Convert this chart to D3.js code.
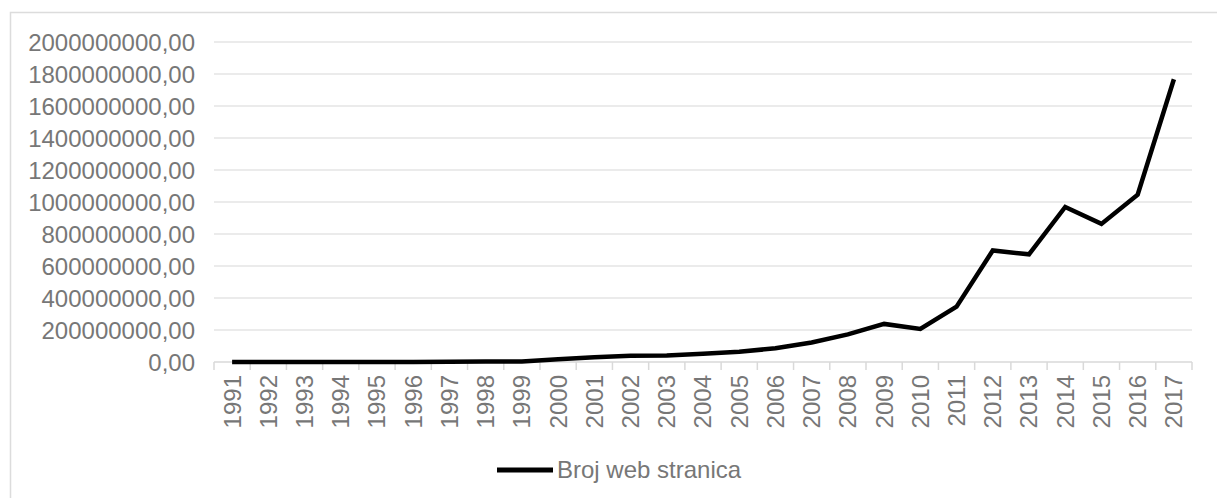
<!DOCTYPE html>
<html>
<head>
<meta charset="utf-8">
<script src="https://cdn.jsdelivr.net/npm/d3@7"></script>
<style>
  html, body { margin: 0; padding: 0; background: #fff; }
  svg { display: block; }
  text { font-family: "Liberation Sans", Arial, sans-serif; }
</style>
</head>
<body>
<svg id="chart" width="1217" height="498"></svg>
<script>
const years = ["1991","1992","1993","1994","1995","1996","1997","1998","1999","2000",
  "2001","2002","2003","2004","2005","2006","2007","2008","2009","2010",
  "2011","2012","2013","2014","2015","2016","2017"];
const websites = [1, 10, 130, 2738, 23500, 257601, 1117255, 2410067, 3177453, 17087182,
  29254370, 38760373, 40912332, 51611646, 64780617, 85507314, 121892559, 172338726, 238027855, 206956723,
  346004403, 697089489, 672985183, 968882453, 863105652, 1045534808, 1766926408];
const seriesName = "Broj web stranica";
const yTicks = [0, 200000000, 400000000, 600000000, 800000000, 1000000000,
  1200000000, 1400000000, 1600000000, 1800000000, 2000000000];
const yTickLabels = ["0,00", "200000000,00", "400000000,00", "600000000,00", "800000000,00",
  "1000000000,00", "1200000000,00", "1400000000,00", "1600000000,00", "1800000000,00", "2000000000,00"];

const svg = d3.select("#chart");
const W = 1217, H = 498;
const m = { left: 214, right: 25, top: 42, bottom: 136 };
const plotW = W - m.left - m.right;
const plotH = H - m.top - m.bottom;

const textColor = "#777777";
const gridColor = "#e4e4e4";

// outer frame
svg.append("rect")
  .attr("x", 10.5).attr("y", 12.5)
  .attr("width", 1400).attr("height", 700)
  .attr("fill", "none").attr("stroke", "#dcdcdc").attr("stroke-width", 1.5);

const g = svg.append("g").attr("transform", `translate(${m.left},${m.top})`);

const x = d3.scaleBand().domain(years).range([0, plotW]).paddingInner(0).paddingOuter(0);
const y = d3.scaleLinear().domain([0, 2000000000]).range([plotH, 0]);

// gridlines
g.append("g").selectAll("line")
  .data(yTicks.filter(d => d > 0))
  .join("line")
  .attr("x1", 0).attr("x2", plotW)
  .attr("y1", d => y(d)).attr("y2", d => y(d))
  .attr("stroke", gridColor).attr("stroke-width", 1.6);

// y axis labels
const yAxis = d3.axisLeft(y)
  .tickValues(yTicks)
  .tickFormat((d, i) => yTickLabels[i])
  .tickSize(0).tickPadding(19);
const yg = g.append("g").call(yAxis);
yg.select(".domain").remove();
yg.selectAll("text")
  .attr("fill", textColor)
  .style("font-size", "24px")
  .attr("dy", "0.35em");

// x axis baseline
const xg = g.append("g").attr("transform", `translate(0,${plotH})`);
xg.append("line")
  .attr("x1", 0).attr("x2", plotW)
  .attr("y1", 0).attr("y2", 0)
  .attr("stroke", "#d9d9d9").attr("stroke-width", 1.5);
// boundary ticks
const boundaries = years.map(d => x(d)).concat([x(years[years.length - 1]) + x.bandwidth()]);
xg.selectAll("line.tick")
  .data(boundaries)
  .join("line")
  .attr("class", "tick")
  .attr("x1", d => d).attr("x2", d => d)
  .attr("y1", 0).attr("y2", 8)
  .attr("stroke", "#d9d9d9").attr("stroke-width", 1.5);

// x labels using axis
const xAxis = d3.axisBottom(x).tickSize(0).tickPadding(0);
const xl = g.append("g").attr("transform", `translate(0,${plotH})`).call(xAxis);
xl.select(".domain").remove();
xl.selectAll("text")
  .attr("fill", textColor)
  .style("font-size", "24px")
  .attr("text-anchor", "end")
  .attr("transform", "rotate(-90)")
  .attr("x", -13)
  .attr("y", 0)
  .attr("dy", "0.35em");

// line
const line = d3.line()
  .x((d, i) => x(years[i]) + x.bandwidth() / 2)
  .y(d => y(d));
g.append("path")
  .datum(websites)
  .attr("d", line)
  .attr("fill", "none")
  .attr("stroke", "#000")
  .attr("stroke-width", 4.5)
  .attr("stroke-linejoin", "miter");

// legend
const lg = svg.append("g").attr("transform", "translate(497,470)");
lg.append("line")
  .attr("x1", 0).attr("x2", 56).attr("y1", 0).attr("y2", 0)
  .attr("stroke", "#000").attr("stroke-width", 5);
lg.append("text")
  .attr("x", 60).attr("y", 0).attr("dy", "0.35em")
  .attr("fill", textColor)
  .style("font-size", "24px")
  .text(seriesName);
</script>
</body>
</html>
